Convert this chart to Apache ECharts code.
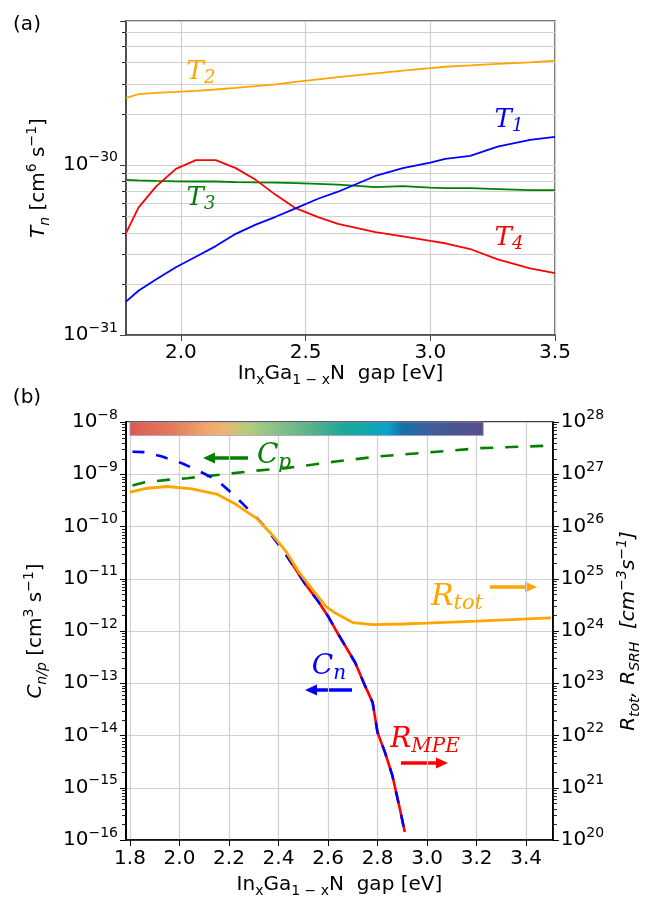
<!DOCTYPE html>
<html>
<head>
<meta charset="utf-8">
<script src="https://cdn.jsdelivr.net/npm/echarts@6/dist/echarts.min.js"></script>
<style>
  html, body { margin: 0; padding: 0; background: #fff; }
  #main { width: 650px; height: 899px; }
</style>
</head>
<body>
<div id="main"></div>
<script>
// ---- (a) T_n coefficients vs gap ----
var gapA = [1.78, 1.83, 1.90, 1.98, 2.06, 2.14, 2.22, 2.30, 2.38, 2.46, 2.55, 2.63, 2.78, 2.89, 3.00, 3.06, 3.16, 3.27, 3.40, 3.50];
var t1 = [1.57e-31, 1.82e-31, 2.12e-31, 2.50e-31, 2.88e-31, 3.33e-31, 3.93e-31, 4.45e-31, 4.95e-31, 5.55e-31, 6.32e-31, 6.95e-31, 8.60e-31, 9.56e-31, 1.03e-30, 1.085e-30, 1.13e-30, 1.28e-30, 1.40e-30, 1.46e-30];
var t2 = [2.47e-30, 2.60e-30, 2.65e-30, 2.68e-30, 2.72e-30, 2.77e-30, 2.83e-30, 2.90e-30, 2.97e-30, 3.07e-30, 3.18e-30, 3.28e-30, 3.45e-30, 3.58e-30, 3.70e-30, 3.77e-30, 3.84e-30, 3.92e-30, 4.00e-30, 4.09e-30];
var t3 = [8.16e-31, 8.10e-31, 8.05e-31, 8.00e-31, 7.98e-31, 7.98e-31, 7.92e-31, 7.88e-31, 7.85e-31, 7.80e-31, 7.72e-31, 7.65e-31, 7.40e-31, 7.50e-31, 7.35e-31, 7.29e-31, 7.29e-31, 7.20e-31, 7.10e-31, 7.10e-31];
var t4 = [3.97e-31, 5.60e-31, 7.45e-31, 9.47e-31, 1.066e-30, 1.066e-30, 9.56e-31, 8.16e-31, 6.66e-31, 5.56e-31, 4.93e-31, 4.50e-31, 4.02e-31, 3.80e-31, 3.57e-31, 3.46e-31, 3.20e-31, 2.78e-31, 2.46e-31, 2.31e-31];

// ---- (b) capture coefficients and rates ----
var gapCn = [1.81, 1.86, 1.93, 2.01, 2.07, 2.15, 2.22, 2.30, 2.35, 2.43, 2.51, 2.56, 2.60, 2.63, 2.71, 2.75, 2.78, 2.80, 2.83, 2.86, 2.89, 2.91];
var cn = [2.70e-9, 2.65e-9, 2.18e-9, 1.62e-9, 1.21e-9, 7.8e-10, 4.0e-10, 1.68e-10, 9.3e-11, 2.9e-11, 7.7e-12, 3.7e-12, 1.92e-12, 1.07e-12, 2.47e-13, 8.8e-14, 4.3e-14, 1.14e-14, 4.75e-15, 1.7e-15, 3.97e-16, 1.42e-16];
var gapCp = [1.81, 1.86, 1.95, 2.03, 2.16, 2.30, 2.43, 2.63, 2.80, 3.00, 3.21, 3.50];
var cp = [6.1e-10, 7.0e-10, 7.8e-10, 8.4e-10, 9.75e-10, 1.16e-9, 1.31e-9, 1.75e-9, 2.18e-9, 2.6e-9, 3.15e-9, 3.53e-9];
var gapTot = [1.80, 1.87, 1.95, 2.05, 2.15, 2.22, 2.31, 2.38, 2.43, 2.48, 2.54, 2.59, 2.63, 2.70, 2.78, 2.90, 3.00, 3.20, 3.50];
var rtot = [4.55e26, 5.4e26, 5.83e26, 5.26e26, 4.17e26, 2.8e26, 1.45e26, 6.5e25, 3.35e25, 1.39e25, 6.0e24, 3.0e24, 2.2e24, 1.45e24, 1.32e24, 1.36e24, 1.42e24, 1.55e24, 1.78e24];
var gapMpe = [2.43, 2.51, 2.56, 2.60, 2.63, 2.71, 2.75, 2.78, 2.80, 2.83, 2.86, 2.89, 2.91];
var rmpe = [2.9e25, 7.7e24, 3.7e24, 1.92e24, 1.07e24, 2.47e23, 8.8e22, 4.3e22, 1.14e22, 4.75e21, 1.7e21, 3.97e20, 1.42e20];

// ticks
var xTicksA = [2.0, 2.5, 3.0, 3.5];
var xTicksB = [1.8, 2.0, 2.2, 2.4, 2.6, 2.8, 3.0, 3.2, 3.4];
var cbarRange = [1.8, 3.227];

// log axes work in scaled units (ECharts rounds very small log ticks)
var unitA = 1e-31, unitL = 1e-16, unitR = 1e20;

function pairs(xs, ys, unit) {
  return xs.map(function (x, i) { return [x, ys[i] / unit]; });
}
function minorVals(maxDecade, maxVal) {
  var out = [];
  for (var d = 0; d < maxDecade; d++) {
    for (var k = 2; k <= 9; k++) {
      var v = k * Math.pow(10, d);
      if (v <= maxVal) out.push([2.5, v]);
    }
  }
  return out;
}
function expLabel(offset) {
  return function (v) {
    var l = Math.log10(v);
    if (Math.abs(l - Math.round(l)) > 1e-6) return '';
    var e = Math.round(l) + offset;
    return '{b|10}{s|' + (e < 0 ? '\u2212' + (-e) : e) + '}';
  };
}

var font = 'DejaVu Sans';
var tickRich = {
  b: { fontSize: 20, fontFamily: font, color: '#000' },
  s: { fontSize: 14, fontFamily: font, color: '#000', padding: [0, 0, 14, 0] }
};
var nameRich = {
  i: { fontSize: 20, fontFamily: font, fontStyle: 'italic', color: '#000' },
  isub: { fontSize: 14, fontFamily: font, fontStyle: 'italic', color: '#000', padding: [12, 0, 0, 0] },
  isup: { fontSize: 14, fontFamily: font, fontStyle: 'italic', color: '#000', padding: [0, 0, 14, 0] },
  sub: { fontSize: 14, fontFamily: font, color: '#000', padding: [12, 0, 0, 0] },
  sup: { fontSize: 14, fontFamily: font, color: '#000', padding: [0, 0, 14, 0] }
};
var xName = 'In{sub|x}Ga{sub|1 \u2212 x}N  gap [eV]';

function minorRender(withLine, leftTick, rightTick) {
  return function (params, api) {
    var cs = params.coordSys;
    var y = Math.round(api.coord([api.value(0), api.value(1)])[1]) + 0.5;
    var ch = [];
    if (withLine) ch.push({ type: 'line', shape: { x1: cs.x, y1: y, x2: cs.x + cs.width, y2: y }, style: { stroke: '#d0d0d0', lineWidth: 1.2 } });
    if (leftTick) ch.push({ type: 'line', shape: { x1: cs.x - 4, y1: y, x2: cs.x, y2: y }, style: { stroke: '#222', lineWidth: 1 } });
    if (rightTick) ch.push({ type: 'line', shape: { x1: cs.x + cs.width, y1: y, x2: cs.x + cs.width + 4, y2: y }, style: { stroke: '#222', lineWidth: 1 } });
    return { type: 'group', children: ch };
  };
}

function mathLabel(x, y, main, sub, color, size) {
  return {
    type: 'text', x: x, y: y, z: 100,
    style: {
      text: '{m|' + main + '}{s|' + sub + '}',
      align: 'center', verticalAlign: 'middle',
      rich: {
        m: { fontFamily: 'DejaVu Serif', fontStyle: 'italic', fontSize: size, fill: color },
        s: { fontFamily: 'DejaVu Serif', fontStyle: 'italic', fontSize: Math.round(size * 0.7), fill: color, padding: [Math.round(size * 0.45), 0, 0, 0] }
      }
    }
  };
}
function arrow(x1, y1, x2, y2, color) {
  var dir = x2 > x1 ? 1 : -1;
  var head = 12;
  return {
    type: 'group', z: 100,
    children: [
      { type: 'line', shape: { x1: x1, y1: y1, x2: x2 - dir * head, y2: y2 }, style: { stroke: color, lineWidth: 3.5 } },
      { type: 'polygon', shape: { points: [[x2, y2], [x2 - dir * head, y2 - 5.5], [x2 - dir * head, y2 + 5.5]] }, style: { fill: color } }
    ]
  };
}

var cbarGradient = new echarts.graphic.LinearGradient(0, 0, 1, 0, [
  { offset: 0, color: '#dc5a4e' },
  { offset: 0.12, color: '#e27a5c' },
  { offset: 0.22, color: '#efa86c' },
  { offset: 0.27, color: '#eab572' },
  { offset: 0.33, color: '#b5cc7c' },
  { offset: 0.42, color: '#86c18a' },
  { offset: 0.52, color: '#52b08c' },
  { offset: 0.60, color: '#1fa898' },
  { offset: 0.68, color: '#0ea9b0' },
  { offset: 0.73, color: '#0ca0cc' },
  { offset: 0.77, color: '#1472ac' },
  { offset: 0.84, color: '#3a6298' },
  { offset: 0.92, color: '#4a5590' },
  { offset: 1, color: '#5c4b8c' }
]);

var myChart = echarts.init(document.getElementById('main'), null, { renderer: 'canvas' });

var option = {
  animation: false,
  backgroundColor: '#fff',
  grid: [
    { left: 126, top: 21, width: 429, height: 314, show: true, borderColor: '#444', borderWidth: 1.5 },
    { left: 126, top: 422, width: 429, height: 419, show: true, borderColor: '#000', borderWidth: 1.5 }
  ],
  xAxis: [
    {
      type: 'value', gridIndex: 0, min: 1.78, max: 3.5,
      name: xName, nameLocation: 'middle', nameGap: 23,
      nameTextStyle: { fontSize: 20, fontFamily: font, color: '#000', rich: nameRich },
      axisLine: { lineStyle: { color: '#444', width: 1.5 } },
      axisTick: { customValues: xTicksA, length: 6, lineStyle: { color: '#444' } },
      axisLabel: { customValues: xTicksA, margin: 8, fontSize: 20, fontFamily: font, color: '#000', formatter: function (v) { return v.toFixed(1); } },
      splitLine: { show: true, lineStyle: { color: '#d0d0d0', width: 1.2 } }
    },
    {
      type: 'value', gridIndex: 1, min: 1.784, max: 3.508,
      name: xName, nameLocation: 'middle', nameGap: 32,
      nameTextStyle: { fontSize: 20, fontFamily: font, color: '#000', rich: nameRich },
      axisLine: { lineStyle: { color: '#000', width: 1.5 } },
      axisTick: { customValues: xTicksB, length: 6, lineStyle: { color: '#000' } },
      axisLabel: { customValues: xTicksB, margin: 9, fontSize: 20, fontFamily: font, color: '#000', formatter: function (v) { return v.toFixed(1); } },
      splitLine: { show: true, lineStyle: { color: '#d0d0d0', width: 1.2 } }
    }
  ],
  yAxis: [
    {
      type: 'log', logBase: 10, gridIndex: 0, min: 1, max: 70,
      name: '{i|T}{isub|n} [cm{sup|6} s{sup|\u22121}]', nameLocation: 'middle', nameGap: 73, nameRotate: 90,
      nameTextStyle: { fontSize: 20, fontFamily: font, color: '#000', rich: nameRich },
      axisLine: { show: true, lineStyle: { color: '#444', width: 1.5 } },
      axisTick: { length: 6, lineStyle: { color: '#444' } },
      axisLabel: { margin: 8, formatter: expLabel(-31), rich: tickRich },
      splitLine: { show: true, lineStyle: { color: '#d0d0d0', width: 1.2 } }
    },
    {
      type: 'log', logBase: 10, gridIndex: 1, min: 1, max: 1e8,
      name: '{i|C}{isub|n/p} [cm{sup|3} s{sup|\u22121}]', nameLocation: 'middle', nameGap: 76, nameRotate: 90,
      nameTextStyle: { fontSize: 20, fontFamily: font, color: '#000', rich: nameRich },
      axisLine: { show: true, lineStyle: { color: '#000', width: 2 } },
      axisTick: { length: 6, lineStyle: { color: '#000' } },
      axisLabel: { margin: 8, formatter: expLabel(-16), rich: tickRich },
      splitLine: { show: true, lineStyle: { color: '#d0d0d0', width: 1.2 } }
    },
    {
      type: 'log', logBase: 10, gridIndex: 1, min: 1, max: 1e8, position: 'right',
      name: '{i|R}{isub|tot}{i|, R}{isub|SRH}{i|  [cm}{isup|\u22123}{i|s}{isup|\u22121}{i|]}', nameLocation: 'middle', nameGap: 62, nameRotate: 90,
      nameTextStyle: { fontSize: 20, fontFamily: font, color: '#000', rich: nameRich },
      axisLine: { show: true, lineStyle: { color: '#000', width: 1.5 } },
      axisTick: { length: 6, lineStyle: { color: '#000' } },
      axisLabel: { margin: 8, formatter: expLabel(20), rich: tickRich },
      splitLine: { show: false }
    }
  ],
  series: [
    // minor grid (a)
    { type: 'custom', xAxisIndex: 0, yAxisIndex: 0, silent: true, z: 1, data: minorVals(2, 70), renderItem: minorRender(true, true, false) },
    { type: 'line', name: 'T2', xAxisIndex: 0, yAxisIndex: 0, data: pairs(gapA, t2, unitA), symbol: 'none', lineStyle: { color: '#ffa500', width: 1.8 }, z: 3 },
    { type: 'line', name: 'T3', xAxisIndex: 0, yAxisIndex: 0, data: pairs(gapA, t3, unitA), symbol: 'none', lineStyle: { color: '#008000', width: 1.8 }, z: 3 },
    { type: 'line', name: 'T4', xAxisIndex: 0, yAxisIndex: 0, data: pairs(gapA, t4, unitA), symbol: 'none', lineStyle: { color: '#ff0000', width: 1.8 }, z: 3 },
    { type: 'line', name: 'T1', xAxisIndex: 0, yAxisIndex: 0, data: pairs(gapA, t1, unitA), symbol: 'none', lineStyle: { color: '#0000ff', width: 1.8 }, z: 3 },
    // minor ticks (b)
    { type: 'custom', xAxisIndex: 1, yAxisIndex: 1, silent: true, z: 1, data: minorVals(8, 1e8), renderItem: minorRender(false, true, true) },
    {
      type: 'line', name: 'Cp', xAxisIndex: 1, yAxisIndex: 1, data: pairs(gapCp, cp, unitL), symbol: 'none',
      lineStyle: { color: '#008000', width: 2.6, type: [13, 12] }, z: 3,
      markArea: {
        silent: true,
        itemStyle: { color: cbarGradient, borderColor: 'rgba(160,150,190,0.7)', borderWidth: 1 },
        data: [[{ xAxis: cbarRange[0], yAxis: 5.5e7 }, { xAxis: cbarRange[1], yAxis: 1e8 }]]
      }
    },
    { type: 'line', name: 'RMPE', xAxisIndex: 1, yAxisIndex: 2, data: pairs(gapMpe, rmpe, unitR), symbol: 'none', lineStyle: { color: '#ff0000', width: 2.6 }, z: 3 },
    { type: 'line', name: 'Cn', xAxisIndex: 1, yAxisIndex: 1, data: pairs(gapCn, cn, unitL), symbol: 'none', lineStyle: { color: '#0000ff', width: 2.6, type: [12, 12] }, z: 4 },
    { type: 'line', name: 'Rtot', xAxisIndex: 1, yAxisIndex: 2, data: pairs(gapTot, rtot, unitR), symbol: 'none', lineStyle: { color: '#ffa500', width: 2.8 }, z: 5 }
  ],
  graphic: [
    { type: 'text', x: 27, y: 25, style: { text: '(a)', fontSize: 20, fontFamily: font, fill: '#000', align: 'center', verticalAlign: 'middle' } },
    { type: 'text', x: 27, y: 398, style: { text: '(b)', fontSize: 20, fontFamily: font, fill: '#000', align: 'center', verticalAlign: 'middle' } },
    mathLabel(201, 72, 'T', '2', '#ffa500', 26),
    mathLabel(201, 198, 'T', '3', '#008000', 26),
    mathLabel(509, 120, 'T', '1', '#0000ff', 26),
    mathLabel(509, 238, 'T', '4', '#ff0000', 26),
    mathLabel(274, 456, 'C', 'p', '#008000', 28),
    arrow(248, 458, 203, 458, '#008000'),
    mathLabel(329, 667, 'C', 'n', '#0000ff', 28),
    arrow(352, 690, 305, 690, '#0000ff'),
    mathLabel(425, 740, 'R', 'MPE', '#ff0000', 28),
    arrow(401, 763, 448, 763, '#ff0000'),
    mathLabel(457, 597, 'R', 'tot', '#ffa500', 30),
    arrow(490, 587, 537, 587, '#ffa500')
  ]
};

myChart.setOption(option);
window.addEventListener('resize', function () {
  myChart.resize();
});
</script>
</body>
</html>
